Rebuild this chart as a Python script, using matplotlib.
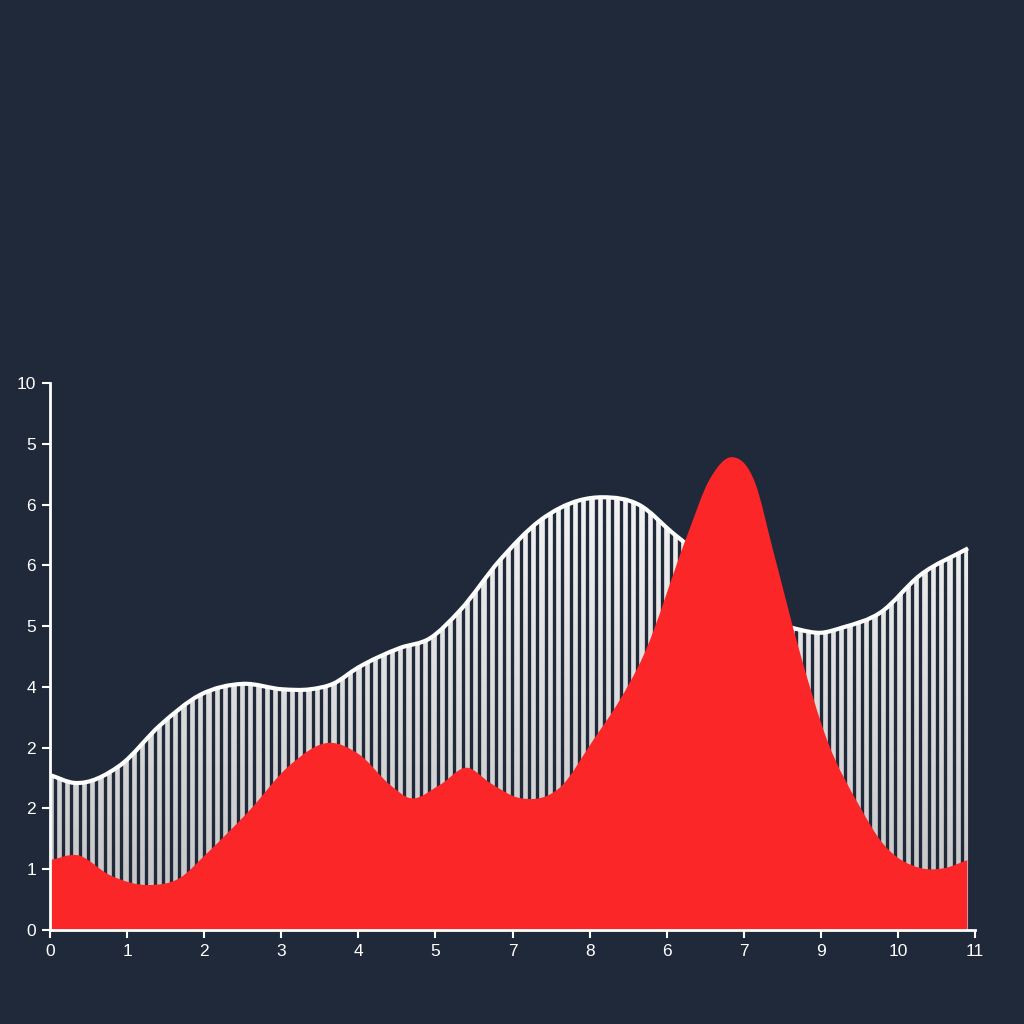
import numpy as np
import matplotlib.pyplot as plt
from matplotlib.path import Path
from matplotlib.patches import PathPatch

# точки
x_top = [0.0, 0.32, 0.91, 1.43, 1.95, 2.5, 3.02, 3.37, 3.67, 4.0, 4.54, 4.93,
         5.32, 5.84, 6.36, 6.87, 7.17, 7.65, 8.08, 8.69, 9.21, 9.73, 9.99,
         10.29, 10.77, 11.29, 11.91]
y_top = [2.55, 2.42, 2.71, 3.37, 3.87, 4.05, 3.96, 3.96, 4.05, 4.32, 4.64,
         4.8, 5.26, 6.09, 6.74, 7.07, 7.12, 6.99, 6.53, 5.9, 5.2, 4.94, 4.89,
         4.98, 5.22, 5.84, 6.28]

x_red = [0.0, 0.36, 0.78, 1.3, 1.69, 2.01, 2.59, 3.11, 3.63, 4.02, 4.41,
         4.67, 5.06, 5.41, 5.71, 6.1, 6.62, 7.05, 7.39, 7.69, 8.26, 8.56,
         8.85, 9.15, 9.38, 9.73, 10.08, 10.51, 10.77, 11.29, 11.61, 11.9]
y_red = [1.15, 1.23, 0.9, 0.74, 0.86, 1.23, 1.97, 2.71, 3.08, 2.88, 2.39,
         2.17, 2.39, 2.67, 2.42, 2.17, 2.35, 3.13, 3.78, 4.49, 6.47, 7.42,
         7.78, 7.35, 6.25, 4.56, 3.13, 2.02, 1.48, 1.02, 1.02, 1.15]

xtick_labels = ['0', '1', '2', '3', '4', '5', '7', '8', '6', '7', '9', '10', '11']
ytick_labels = ['0', '1', '2', '2', '4', '5', '6', '6', '5', '10']

bg = '#1f293a'
red = '#fa2628'


def smooth_path(xs, ys, close=False):
    # кривая через точки (эрмит -> bezier), только для отрисовки
    x = np.asarray(xs, float)
    y = np.asarray(ys, float)
    h = np.diff(x)
    d = np.diff(y) / h
    m = np.empty_like(y)
    m[0], m[-1] = d[0], d[-1]
    m[1:-1] = (d[:-1] * h[1:] + d[1:] * h[:-1]) / (h[:-1] + h[1:])
    verts = [(x[0], y[0])]
    codes = [Path.MOVETO]
    for i in range(len(x) - 1):
        k = h[i] / 3
        verts += [(x[i] + k, y[i] + m[i] * k),
                  (x[i + 1] - k, y[i + 1] - m[i + 1] * k),
                  (x[i + 1], y[i + 1])]
        codes += [Path.CURVE4] * 3
    if close:
        verts += [(x[-1], 0), (x[0], 0), (x[0], 0)]
        codes += [Path.LINETO, Path.LINETO, Path.CLOSEPOLY]
    return Path(verts, codes)


plt.rcParams['font.family'] = ['Liberation Sans', 'DejaVu Sans']
fig = plt.figure(figsize=(10.24, 10.24), dpi=100, facecolor=bg)
ax = fig.add_axes([50 / 1024, 1 - 930 / 1024, 925 / 1024, 547 / 1024])
ax.set_facecolor(bg)
ax.set_xlim(0, 12)
ax.set_ylim(0, 9)

# белая область с полосками
area = PathPatch(smooth_path(x_top, y_top, close=True), facecolor='none',
                 edgecolor='none', transform=ax.transData)
ax.add_patch(area)
grad = np.linspace(0.76, 1.0, 256).reshape(-1, 1)
im = ax.imshow(grad, cmap='gray', vmin=0, vmax=1, extent=[0, 12, 0, 9],
               origin='lower', aspect='auto', zorder=1)
im.set_clip_path(area)
stripes = ax.vlines(np.arange(0.06, 12, 0.108), 0, 9, color=bg,
                    linewidth=2.4, zorder=2)
stripes.set_clip_path(area)
line = PathPatch(smooth_path(x_top, y_top), facecolor='none', edgecolor='white',
                 linewidth=3, zorder=3)
ax.add_patch(line)

# красная область
ax.add_patch(PathPatch(smooth_path(x_red, y_red, close=True), facecolor=red,
                       edgecolor='none', zorder=4))

# оси
for s in ['top', 'right']:
    ax.spines[s].set_visible(False)
for s in ['left', 'bottom']:
    ax.spines[s].set_color('white')
    ax.spines[s].set_linewidth(2)
    ax.spines[s].set_zorder(5)
ax.set_xticks(range(13))
ax.set_xticklabels(xtick_labels)
ax.set_yticks(range(10))
ax.set_yticklabels(ytick_labels)
ax.tick_params(colors='white', labelsize=12.5, length=6, width=1.5, pad=4)

plt.savefig('out.png', dpi=100, facecolor=bg)
